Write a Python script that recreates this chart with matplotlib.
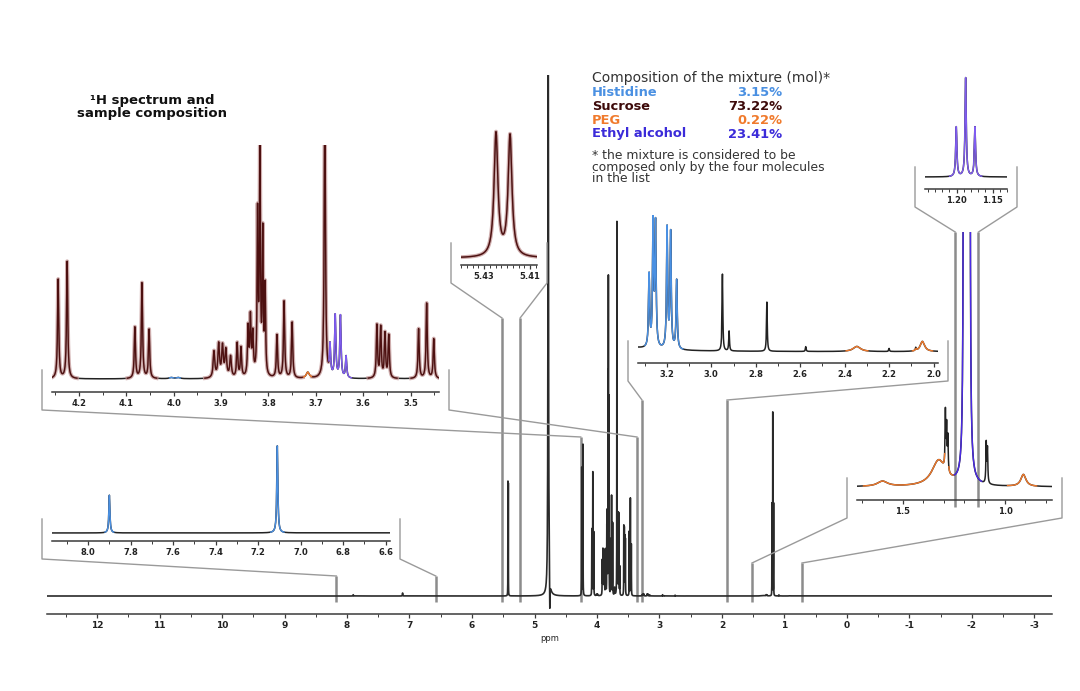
import numpy as np
import matplotlib
matplotlib.use("Agg")
import matplotlib.pyplot as plt
from matplotlib.lines import Line2D
from matplotlib.ticker import MultipleLocator, FixedLocator, FormatStrFormatter

plt.rcParams['axes.unicode_minus'] = False
plt.rcParams['font.family'] = ['DejaVu Sans']

W, H = 1080, 691

# ---- peak lists (ppm, intensity in main-plot units, half width) ----
sucrose_ppm = [5.4248, 5.4187, 4.244, 4.225, 4.082, 4.067, 4.052,
               3.915, 3.905, 3.897, 3.890, 3.880, 3.866, 3.858, 3.843, 3.838, 3.833,
               3.823, 3.818, 3.812, 3.807, 3.782, 3.767, 3.750, 3.681,
               3.571, 3.563, 3.554, 3.546, 3.483, 3.466, 3.451]
sucrose_int = [112, 110, 128, 151, 66, 123, 63,
               34, 43, 40, 35, 27, 44, 38, 62, 74, 52,
               205, 300, 180, 112, 55, 99, 72, 373,
               68, 65, 57, 55, 64, 97, 51]
sucrose_hw = [0.001, 0.001] + [0.0015] * 5 + [0.002] * 5 + [0.0015] * 5 + \
             [0.0012] * 4 + [0.0015] * 4 + [0.0015] * 7

histidine_ppm = [7.90, 7.11, 4.005, 3.99, 3.280, 3.262, 3.251, 3.199, 3.183, 3.156]
histidine_int = [1.3, 3.0, 1.5, 1.5, 1.2, 2.08, 2.03, 2.0, 1.92, 1.15]
histidine_hw = [0.003, 0.003, 0.005, 0.005, 0.003, 0.003, 0.003, 0.003, 0.003, 0.003]

peg_ppm = [3.717, 2.345, 2.05, 1.60, 1.325, 0.91]
peg_int = [7.7, 0.085, 0.17, 0.09, 0.45, 0.21]
peg_hw = [0.004, 0.02, 0.012, 0.03, 0.04, 0.015]

ethanol_ppm = [3.670, 3.659, 3.648, 3.636, 1.2005, 1.1875, 1.1745]
ethanol_int = [39, 80, 80, 28, 92, 183, 92]
ethanol_hw = [0.0015] * 4 + [0.001] * 3

other_ppm = [2.95, 2.92, 2.75, 2.575, 2.20, 2.08, 1.292, 1.286, 1.280, 1.092, 1.086]
other_int = [1.28, 0.33, 0.82, 0.08, 0.05, 0.05, 1.0, 0.75, 0.6, 0.7, 0.6]
other_hw = [0.002] * 11

water_ppm = [4.78, 4.755]
water_int = [600, -35]
water_hw = [0.005, 0.004]

mixture_names = ['Histidine', 'Sucrose', 'PEG', 'Ethyl alcohol']
mixture_pct = [3.15, 73.22, 0.22, 23.41]

PEAKS = {
    'his': (histidine_ppm, histidine_int, histidine_hw),
    'suc': (sucrose_ppm, sucrose_int, sucrose_hw),
    'peg': (peg_ppm, peg_int, peg_hw),
    'eth': (ethanol_ppm, ethanol_int, ethanol_hw),
    'oth': (other_ppm, other_int, other_hw),
    'h2o': (water_ppm, water_int, water_hw),
}
COLORS = {'his': '#4a90e2', 'suc': '#4d1010', 'peg': '#f07a2c', 'eth': '#7f5cf0'}
LEGEND_COLORS = ['#4a90e2', '#3d0a0a', '#f07a2c', '#3b2bd9']
MARK = '#8c8c8c'
BRACKET = '#9a9a9a'


def spec(x, comps):
    y = np.zeros_like(x)
    for c in comps:
        for p, h, w in zip(*PEAKS[c]):
            y += h / (1 + ((x - p) / w) ** 2)
    return y


def near(x, comp):
    # points lying close to one of the component's own lines
    m = np.zeros(x.shape, dtype=bool)
    for p, h, w in zip(*PEAKS[comp]):
        m |= np.abs(x - p) < max(60 * w, 0.01)
    return m


def grid(lo, hi, n=8000):
    xs = np.linspace(min(lo, hi), max(lo, hi), n)
    allp = np.concatenate([np.array(v[0]) for v in PEAKS.values()])
    inside = allp[(allp > min(lo, hi)) & (allp < max(lo, hi))]
    return np.union1d(xs, inside)


def rect(x0, x1, ybot, ytop):
    return [x0 / W, 1 - ybot / H, (x1 - x0) / W, (ybot - ytop) / H]


def style(ax, major, minor, fmt, fs=6):
    for s in ['left', 'right', 'top']:
        ax.spines[s].set_visible(False)
    ax.spines['bottom'].set_color('#3a3a3a')
    ax.spines['bottom'].set_linewidth(1.1)
    ax.set_yticks([])
    ax.patch.set_alpha(0)
    if isinstance(major, list):
        ax.xaxis.set_major_locator(FixedLocator(major))
    else:
        ax.xaxis.set_major_locator(MultipleLocator(major))
    ax.xaxis.set_minor_locator(MultipleLocator(minor))
    ax.xaxis.set_major_formatter(FormatStrFormatter(fmt))
    ax.tick_params(axis='x', which='major', length=3, width=0.9, color='#3a3a3a',
                   labelsize=fs, pad=2, labelcolor='#222222')
    ax.tick_params(axis='x', which='minor', length=2, width=0.7, color='#3a3a3a')
    for t in ax.get_xticklabels():
        t.set_fontweight('bold')


fig = plt.figure(figsize=(W / 100, H / 100), dpi=100)

# ---- main spectrum ----
main = fig.add_axes(rect(47, 1052, 614, 75))
main.set_xlim(12.8, -3.28)
main.set_ylim(-18, 521)
style(main, 1, 0.5, '%d', fs=6.5)
xm = grid(12.8, -3.28, 16000)
main.plot(xm, spec(xm, PEAKS.keys()), color='#2a2a2a', lw=1.2, zorder=3)
main.set_xlabel('ppm', fontsize=6, labelpad=3, color='#222222')

# ---- insets: pixel box, baseline, x range, vertical gain ----
INSETS = {
    'suc': dict(px=(52, 439), spine=392, base=379, top=145, xlim=(4.257, 3.44), gain=0.775,
                major=0.1, minor=0.05, fmt='%.1f'),
    'A':   dict(px=(52, 390), spine=541, base=533, top=440, xlim=(8.17, 6.58), gain=29,
                major=0.2, minor=0.1, fmt='%.1f'),
    'B':   dict(px=(461, 537), spine=265, base=258, top=125, xlim=(5.44, 5.407), gain=1.1,
                major=[5.43, 5.41], minor=0.0025, fmt='%.2f'),
    'C':   dict(px=(638, 938), spine=363, base=352, top=215, xlim=(3.33, 1.98), gain=60,
                major=0.2, minor=0.1, fmt='%.1f'),
    'D':   dict(px=(925, 1007), spine=189, base=177, top=70, xlim=(1.244, 1.13), gain=0.54,
                major=0.05, minor=0.01, fmt='%.2f'),
    'E':   dict(px=(857, 1052), spine=500, base=487, top=232, xlim=(1.725, 0.77), gain=57,
                major=0.5, minor=0.1, fmt='%.1f'),
}

axes = {}
for name, s in INSETS.items():
    ax = fig.add_axes(rect(s['px'][0], s['px'][1], s['spine'], s['top']))
    ax.set_xlim(*s['xlim'])
    g = s['gain']
    ax.set_ylim(-(s['spine'] - s['base']) / g, (s['base'] - s['top']) / g)
    style(ax, s['major'], s['minor'], s['fmt'])
    x = grid(*s['xlim'])
    total = spec(x, PEAKS.keys())
    ax.plot(x, total, color='#222222', lw=1.1, zorder=2)
    for c, col in COLORS.items():
        yc = spec(x, [c])
        mask = (yc >= 0.5 * total) & (yc * g > 0.8) & near(x, c)
        yy = np.where(mask, total, np.nan)
        if c == 'suc':
            ax.plot(x, yy, color='#c49a9a', lw=2.8, zorder=3, alpha=0.8)
        if c == 'eth' and name == 'E':
            col = '#4a2ae6'
        ax.plot(x, yy, color=col, lw=1.0, zorder=4)
    axes[name] = ax


def link(ins, host, xa, xb, top, bottom):
    for xv in (xa, xb):
        host.plot([xv, xv], [bottom, top], color=MARK, lw=1.8, zorder=1,
                  clip_on=False, solid_capstyle='butt')
    bb = ins.get_position()
    inv = fig.transFigure.inverted()
    pa = inv.transform(host.transData.transform((xa, top)))
    pb = inv.transform(host.transData.transform((xb, top)))
    left, right = bb.x0 - 10 / W, bb.x1 + 10 / W
    yt, yb = bb.y0 + 22 / H, bb.y0 - 18 / H
    fig.add_artist(Line2D([left, left, pa[0]], [yt, yb, pa[1]],
                          transform=fig.transFigure, color=BRACKET, lw=1.0))
    fig.add_artist(Line2D([right, right, pb[0]], [yt, yb, pb[1]],
                          transform=fig.transFigure, color=BRACKET, lw=1.0))


# zoom windows marked on the host spectrum: (left ppm, right ppm, marker height)
zoom_windows = {
    'A': (8.17, 6.58, 20),
    'B': (5.52, 5.23, 278),
    'suc': (4.26, 3.36, 159),
    'C': (3.28, 1.92, 196),
    'E': (1.52, 0.72, 33),
}
for name, (xa, xb, top) in zoom_windows.items():
    link(axes[name], main, xa, xb, top, -6)

eax = axes['E']
ylo, yhi = eax.get_ylim()
link(axes['D'], eax, INSETS['D']['xlim'][0], INSETS['D']['xlim'][1], yhi,
     ylo - 7 / INSETS['E']['gain'])

# ---- texts ----
fig.text(152 / W, 1 - 107 / H, '¹H spectrum and\nsample composition', ha='center', va='center',
         fontsize=9.5, fontweight='bold', linespacing=0.95, color='#111111')

fig.text(592 / W, 1 - 78 / H, 'Composition of the mixture (mol)*', ha='left', va='center',
         fontsize=10, color='#333333')
row_y = [93, 107, 121, 134]
for nm, pct, col, yy in zip(mixture_names, mixture_pct, LEGEND_COLORS, row_y):
    fig.text(592 / W, 1 - yy / H, nm, ha='left', va='center', fontsize=9.4,
             fontweight='bold', color=col)
    fig.text(782 / W, 1 - yy / H, '%.2f%%' % pct, ha='right', va='center', fontsize=9.4,
             fontweight='bold', color=col)
fig.text(592 / W, 1 - 149 / H,
         '* the mixture is considered to be\ncomposed only by the four molecules\nin the list',
         ha='left', va='top', fontsize=8.9, color='#333333', linespacing=0.85)

fig.savefig('out.png', dpi=100)
